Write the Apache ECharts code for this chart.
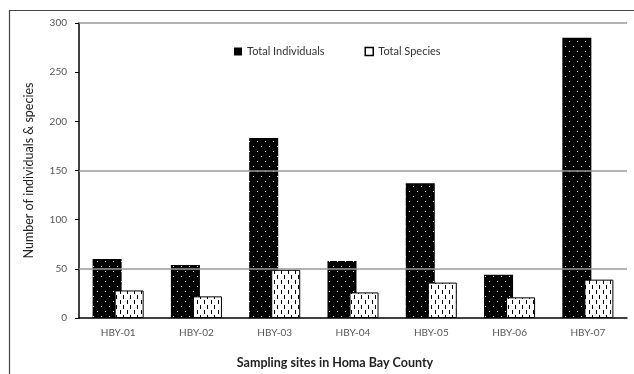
<!DOCTYPE html>
<html>
<head>
<meta charset="utf-8">
<script src="https://cdn.jsdelivr.net/npm/echarts@6/dist/echarts.min.js"></script>
<style>
  html, body { margin: 0; padding: 0; background: #fff; }
  #chart { width: 634px; height: 374px; }
</style>
</head>
<body>
<div id="chart"></div>
<script>
// Sampling sites and counts
const sites = ['HBY-01', 'HBY-02', 'HBY-03', 'HBY-04', 'HBY-05', 'HBY-06', 'HBY-07'];
const totalIndividuals = [60, 54, 183, 58, 137, 44, 285];
const totalSpecies = [28, 22, 49, 26, 36, 21, 39];
const gridValues = [50, 150, 300];

// Dotted fill: black with small white dots
function dotPattern() {
  const c = document.createElement('canvas');
  c.width = 8; c.height = 10;
  const g = c.getContext('2d');
  g.fillStyle = '#000';
  g.fillRect(0, 0, 8, 10);
  g.fillStyle = '#fff';
  g.fillRect(1, 1, 1, 1);
  g.fillRect(5, 6, 1, 1);
  return c;
}
// Dashed fill: white with short vertical black dashes
function dashPattern() {
  const c = document.createElement('canvas');
  c.width = 7; c.height = 10;
  const g = c.getContext('2d');
  g.fillStyle = '#fff';
  g.fillRect(0, 0, 7, 10);
  g.fillStyle = '#000';
  g.fillRect(1, 0, 1, 4);
  g.fillRect(4, 5, 1, 4);
  return c;
}

const font = 'Lato, "Open Sans", sans-serif';
const chart = echarts.init(document.getElementById('chart'));
chart.setOption({
  animation: false,
  backgroundColor: '#fff',
  graphic: [{
    type: 'rect',
    left: 7, top: 8,
    shape: { width: 700, height: 500 },
    style: { fill: 'none', stroke: '#444', lineWidth: 1.2 },
    silent: true
  }],
  grid: { left: 79, right: 7, top: 23, bottom: 56 },
  legend: {
    top: 41, left: 229,
    itemGap: 40,
    itemWidth: 8, itemHeight: 8,
    textStyle: { fontFamily: font, fontSize: 11, color: '#333' },
    data: [
      { name: 'Total Individuals', icon: 'rect', itemStyle: { color: '#000', borderWidth: 0 } },
      { name: 'Total Species', icon: 'rect', itemStyle: { color: '#fff', borderColor: '#000', borderWidth: 1.5 } }
    ]
  },
  xAxis: {
    type: 'category',
    data: sites,
    name: 'Sampling sites in Homa Bay County',
    nameLocation: 'middle',
    nameGap: 38,
    nameTextStyle: { fontFamily: font, fontSize: 12.5, fontWeight: 'bold', color: '#222', padding: [0, 36, 0, 0] },
    axisLine: { lineStyle: { color: '#000', width: 1.5 } },
    axisTick: { show: false },
    axisLabel: { fontFamily: font, fontSize: 10, color: '#555', margin: 10 }
  },
  yAxis: {
    type: 'value',
    min: 0, max: 300, interval: 50,
    name: 'Number of individuals & species',
    nameLocation: 'middle',
    nameGap: 44,
    nameTextStyle: { fontFamily: font, fontSize: 12.5, color: '#222' },
    axisLine: { show: true, lineStyle: { color: '#000', width: 1.5 } },
    axisTick: { show: true, length: 4, lineStyle: { color: '#000' } },
    axisLabel: { fontFamily: font, fontSize: 10, color: '#555', margin: 12 },
    splitLine: { show: false }
  },
  series: [
    {
      name: 'gridlines',
      type: 'line',
      data: [],
      z: 1,
      silent: true,
      markLine: {
        silent: true,
        symbol: 'none',
        label: { show: false },
        lineStyle: { color: '#999', width: 1.5, type: 'solid' },
        data: gridValues.map(v => ({ yAxis: v }))
      }
    },
    {
      name: 'Total Individuals',
      type: 'bar',
      z: 2,
      data: totalIndividuals,
      barWidth: 29,
      barGap: '-24%',
      itemStyle: { color: { image: dotPattern(), repeat: 'repeat' } }
    },
    {
      name: 'Total Species',
      type: 'bar',
      z: 3,
      data: totalSpecies,
      barWidth: 29,
      itemStyle: {
        color: { image: dashPattern(), repeat: 'repeat' },
        borderColor: '#000',
        borderWidth: 1
      }
    }
  ]
});
</script>
</body>
</html>
